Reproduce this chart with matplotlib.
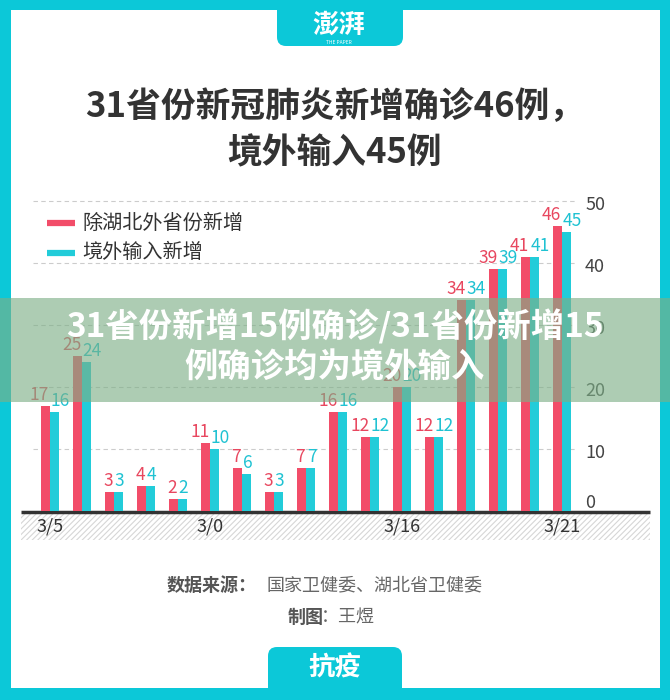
import matplotlib
matplotlib.use('Agg')
import matplotlib.pyplot as plt
from matplotlib.patches import Rectangle, FancyBboxPatch

plt.rcParams['font.family'] = ['Noto Sans CJK SC', 'DejaVu Sans']
plt.rcParams['hatch.linewidth'] = 0.8

# ---------- data ----------
outside_hubei = [17, 25, 3, 4, 2, 11, 7, 3, 7, 16, 12, 20, 12, 34, 39, 41, 46]
imported = [16, 24, 3, 4, 2, 10, 6, 3, 7, 16, 12, 20, 12, 34, 39, 41, 45]
tick_pos = [0, 5, 11, 16]
tick_labels = ['3/5', '3/0', '3/16', '3/21']
y_ticks = [0, 10, 20, 30, 40, 50]

title = '31省份新冠肺炎新增确诊46例，\n境外输入45例'
legend_labels = ['除湖北外省份新增', '境外输入新增']
overlay_lines = ['31省份新增15例确诊/31省份新增15', '例确诊均为境外输入']

CYAN = '#0cc8d8'
RED = '#f24d69'
TEAL = '#22ccd9'

fig = plt.figure(figsize=(6.7, 7), dpi=100, facecolor=CYAN)

# background / frame axes in pixel coords
bg = fig.add_axes([0, 0, 1, 1], zorder=0)
bg.set_xlim(0, 670)
bg.set_ylim(700, 0)
bg.axis('off')
bg.add_patch(Rectangle((11, 10), 649, 678, facecolor='white', edgecolor='none'))

# top tab with logo
bg.add_patch(FancyBboxPatch((277, -20), 126, 66, boxstyle='round,pad=0,rounding_size=9',
                            facecolor=CYAN, edgecolor='none'))
bg.text(339, 25, '澎湃', color='white', fontsize=19, fontweight='bold',
        ha='center', va='center', style='italic')
bg.text(339, 42, 'THE PAPER', color='white', fontsize=3.5, ha='center', va='center')

# title
bg.text(335, 130, title, color='#333333', fontsize=25, fontweight='bold',
        ha='center', va='center', linespacing=1.4)

# legend
for i, (lab, col) in enumerate(zip(legend_labels, [RED, TEAL])):
    y = 223 + 30 * i
    bg.plot([47, 75], [y, y], color=col, lw=4.5, solid_capstyle='butt')
    bg.text(82, y, lab, color='#333333', fontsize=14.5, ha='left', va='center')

# hatched band under axis and baseline
bg.add_patch(Rectangle((21, 513), 629, 27, facecolor='white', edgecolor='#d6d6d6',
                       hatch='//////', lw=0))
bg.plot([21, 650], [512, 512], color='#333333', lw=2.5, solid_capstyle='butt')

# footer
bg.text(167, 585, '数据来源：', color='#555555', fontsize=13, fontweight='bold',
        ha='left', va='center')
bg.text(267, 585, '国家卫健委、湖北省卫健委', color='#666666', fontsize=13,
        ha='left', va='center')
bg.text(288, 617, '制图', color='#555555', fontsize=13, fontweight='bold',
        ha='left', va='center')
bg.text(321, 617, '：王煜', color='#666666', fontsize=13, ha='left', va='center')

# bottom tab
bg.add_patch(FancyBboxPatch((268, 647), 134, 70, boxstyle='round,pad=0,rounding_size=9',
                            facecolor=CYAN, edgecolor='none'))
bg.text(335, 668, '抗疫', color='white', fontsize=19, fontweight='bold',
        ha='center', va='center')

# ---------- chart ----------
px_per_unit = 6.2
ax = fig.add_axes([21 / 670, (700 - 511) / 700, 629 / 670, 321 / 700], zorder=1)
ax.set_facecolor('none')
ax.set_xlim(-0.906, 18.75)
ax.set_ylim(0, 321 / px_per_unit)
for s in ax.spines.values():
    s.set_visible(False)
ax.set_yticks([])

x = list(range(len(outside_hubei)))
w = 0.28
off = 0.148
ax.hlines(y_ticks[1:], -0.53, 16.4, colors='#cccccc', lw=0.8, linestyles=(0, (4, 3)), zorder=0)
ax.bar([i - off for i in x], outside_hubei, width=w, color=RED, zorder=2)
ax.bar([i + off for i in x], imported, width=w, color=TEAL, zorder=2)

for i in x:
    ax.annotate(str(outside_hubei[i]), (i - 0.02, outside_hubei[i]), xytext=(0, 1.5),
                textcoords='offset points', ha='right', va='bottom',
                color='#e8475f', fontsize=12.5)
    ax.annotate(str(imported[i]), (i + 0.02, imported[i]), xytext=(0, 1.5),
                textcoords='offset points', ha='left', va='bottom',
                color='#1fc2d2', fontsize=12.5)

for v in y_ticks:
    ax.text(16.72, v + (1.3 if v == 0 else -0.6), str(v), color='#444444', fontsize=13,
            ha='left', va='center')

ax.set_xticks(tick_pos)
ax.set_xticklabels(tick_labels, fontsize=13, color='#333333')
ax.tick_params(axis='x', length=0, pad=5)

# ---------- overlay banner ----------
ov = fig.add_axes([0, 0, 1, 1], zorder=3)
ov.set_xlim(0, 670)
ov.set_ylim(700, 0)
ov.axis('off')
ov.set_facecolor('none')
ov.add_patch(Rectangle((0, 298), 670, 104, facecolor=(125 / 255, 175 / 255, 135 / 255),
                       alpha=0.63, edgecolor='none'))
ov.text(335, 327, overlay_lines[0], color='white', fontsize=24, fontweight='bold',
        ha='center', va='center')
ov.text(335, 368, overlay_lines[1], color='white', fontsize=24, fontweight='bold',
        ha='center', va='center')

fig.savefig('out.png', dpi=100, facecolor=CYAN)
